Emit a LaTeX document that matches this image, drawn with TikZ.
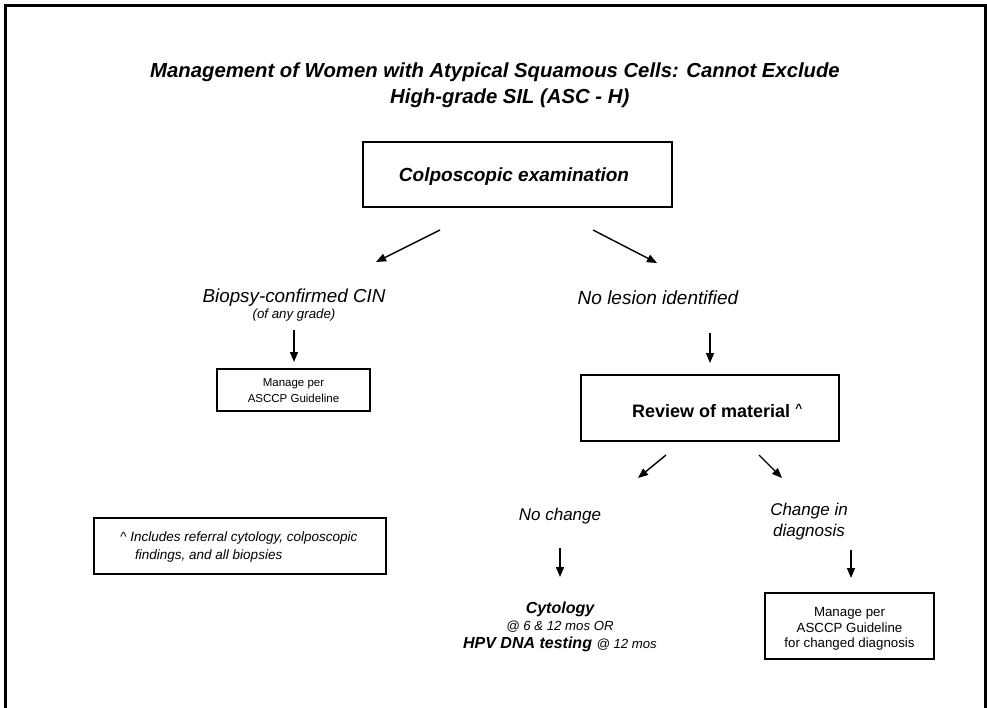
\documentclass[tikz,border=0pt]{standalone}
\usepackage{fontspec}
\setmainfont{Liberation Sans}
\usetikzlibrary{arrows.meta}

\tikzset{
  frameline/.style={line width=3pt},
  box/.style={draw, line width=2pt, inner sep=0pt},
  arr/.style={line width=1.4pt, -{Triangle[length=10pt,width=8pt]}},
  lbl/.style={anchor=base, inner sep=0pt},
  titletext/.style={font=\fontsize{20.3}{24}\selectfont\bfseries\itshape},
  headtext/.style={font=\fontsize{18.8}{22}\selectfont\itshape},
  smalltext/.style={font=\fontsize{13.3}{16}\selectfont},
}

\begin{document}
\begin{tikzpicture}[x=1pt,y=-1pt]
  \useasboundingbox (0,0) rectangle (987,708);
  \fill[white] (0,0) rectangle (987,708);

  % outer frame, open at the bottom edge
  \draw[frameline] (5,708) -- (5,6) -- (985,6) -- (985,708);

  % title
  \node[lbl, titletext] (title1) at (495,78)
    {Management of Women with Atypical Squamous Cells: Cannot Exclude};
  \node[lbl, titletext, anchor=base west] (title2) at (390,104)
    {High-grade SIL (ASC - H)};

  % boxes
  \node[box, minimum width=309pt, minimum height=65pt] (colpobox) at (517.5,174.5) {};
  \node[box, minimum width=153pt, minimum height=42pt] (cinbox) at (293.5,390) {};
  \node[box, minimum width=258pt, minimum height=66pt] (revbox) at (710,408) {};
  \node[box, minimum width=169pt, minimum height=66pt] (chgbox) at (849.5,626) {};
  \node[box, minimum width=292pt, minimum height=56pt] (notebox) at (240,546) {};

  % box texts and free labels
  \node[lbl, font=\fontsize{19}{23}\selectfont\bfseries\itshape] (colpo) at (514,182)
    {Colposcopic examination};

  \node[lbl, headtext] (cin) at (294,302) {Biopsy-confirmed CIN};
  \node[lbl, font=\fontsize{13.3}{16}\selectfont\itshape] (grade) at (294,319)
    {(of any grade)};
  \node[lbl, font=\fontsize{19}{23}\selectfont\itshape] (nolesion) at (658,305)
    {No lesion identified};

  \node[lbl, font=\fontsize{11.5}{14}\selectfont] (cinm1) at (293.5,386) {Manage per};
  \node[lbl, font=\fontsize{11.5}{14}\selectfont] (cinm2) at (293.5,402) {ASCCP Guideline};

  \node[lbl, anchor=base west, font=\fontsize{18}{22}\selectfont\bfseries] (review) at (632,417)
    {Review of material \raisebox{5pt}{\fontsize{12}{14}\selectfont\textasciicircum}};

  \node[lbl, font=\fontsize{17}{20}\selectfont\itshape] (nochange) at (560,520) {No change};
  \node[lbl, font=\fontsize{17}{20}\selectfont\itshape] (chgin) at (809,515) {Change in};
  \node[lbl, font=\fontsize{17}{20}\selectfont\itshape] (diag) at (809,536) {diagnosis};

  \node[lbl, font=\fontsize{16}{19}\selectfont\bfseries\itshape] (cyto) at (560,613) {Cytology};
  \node[lbl, font=\fontsize{13.2}{16}\selectfont\itshape] (cyto2) at (560,630) {@ 6 \& 12 mos OR};
  \node[lbl, font=\fontsize{16}{19}\selectfont\itshape] (hpv) at (560,648)
    {\textbf{HPV DNA testing} {\fontsize{13.2}{16}\selectfont @ 12 mos}};

  \node[lbl, smalltext] (chgm1) at (849.5,616) {Manage per};
  \node[lbl, smalltext] (chgm2) at (849.5,632) {ASCCP Guideline};
  \node[lbl, smalltext] (chgm3) at (849.5,647) {for changed diagnosis};

  \node[lbl, anchor=base west, font=\fontsize{13.5}{16}\selectfont\itshape] (note1) at (120,541)
    {\textasciicircum\ Includes referral cytology, colposcopic};
  \node[lbl, anchor=base west, font=\fontsize{13.5}{16}\selectfont\itshape] (note2) at (135,559)
    {findings, and all biopsies};

  % arrow end points
  \coordinate (a1s) at (440,230);  \coordinate (a1e) at (376,262);
  \coordinate (a2s) at (593,230);  \coordinate (a2e) at (657,263);
  \coordinate (a3s) at (294,330);  \coordinate (a3e) at (294,362);
  \coordinate (a4s) at (710,333);  \coordinate (a4e) at (710,363);
  \coordinate (a5s) at (666,455);  \coordinate (a5e) at (638,478);
  \coordinate (a6s) at (759,455);  \coordinate (a6e) at (782,478);
  \coordinate (a7s) at (560,548);  \coordinate (a7e) at (560,577);
  \coordinate (a8s) at (851,550);  \coordinate (a8e) at (851,578);

  \draw[arr] (a1s) -- (a1e);
  \draw[arr] (a2s) -- (a2e);
  \draw[arr] (a3s) -- (a3e);
  \draw[arr] (a4s) -- (a4e);
  \draw[arr] (a5s) -- (a5e);
  \draw[arr] (a6s) -- (a6e);
  \draw[arr] (a7s) -- (a7e);
  \draw[arr] (a8s) -- (a8e);
\end{tikzpicture}
\end{document}
